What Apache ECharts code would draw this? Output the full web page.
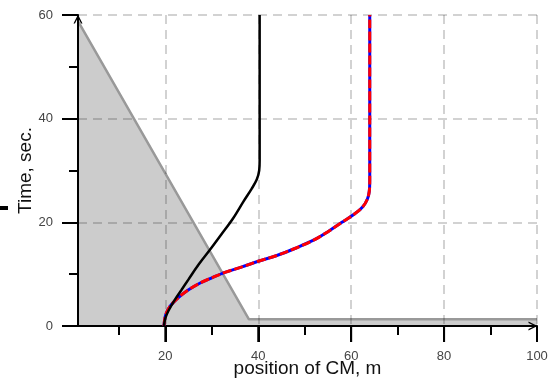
<!DOCTYPE html>
<html>
<head>
<meta charset="utf-8">
<script src="https://cdn.jsdelivr.net/npm/echarts@6/dist/echarts.min.js"></script>
<style>html,body{margin:0;padding:0;background:#fff;}#c{width:549px;height:385px;}</style>
</head>
<body>
<div id="c"></div>
<script>
// ---- data ----
const xMajorTicks = [20, 40, 60, 80, 100];
const xMinorTicks = [10, 30, 50, 70, 90];
const xTitle = 'position of CM, m';
const yTitle = 'Time, sec.';
// gray region boundary (x, t)
const regionX = [1.2, 38, 100];
const regionT = [58.8, 1.3, 1.3];
// red/blue curve (x, t)
const curveAX = [19.7, 19.9, 20.3, 21.0, 22.0, 23.5, 25.0, 27.5, 30.0, 33.0, 36.5, 40.0, 44.0, 48.0, 52.0, 55.0, 58.0, 60.7, 62.5, 63.5, 63.9, 64.0, 64.0];
const curveAT = [0, 1.5, 2.7, 3.8, 4.8, 6.0, 7.0, 8.3, 9.3, 10.4, 11.4, 12.5, 13.6, 15.0, 16.6, 18.2, 20.0, 21.6, 23.0, 24.5, 26.0, 28.0, 60];
// black curve (x, t)
const curveBX = [19.7, 20.0, 20.7, 22.0, 23.5, 25.0, 27.2, 29.6, 32.0, 34.6, 36.8, 38.6, 39.7, 40.2, 40.3, 40.3];
const curveBT = [0, 1.5, 3.0, 5.0, 7.0, 9.0, 11.9, 14.7, 17.6, 20.8, 24.0, 26.5, 28.3, 30.0, 32.0, 60];

const pairs = (xs, ys) => xs.map((x, i) => [x, ys[i]]);

const chevron = 'path://M0,10 L5,0 L10,10 L8.4,10 L5,3.2 L1.6,10 Z';
const gridDash = () => ({ color: 'rgba(0,0,0,0.24)', width: 1.5, type: [9, 6] });
const font = 'Liberation Sans, Arial, sans-serif';
const tickAxis = (vals, len) => ({
  type: 'value', min: 1.2, max: 100, position: 'bottom',
  axisLine: { show: false },
  axisTick: { show: true, length: len, lineStyle: { color: '#000', width: 2 }, customValues: vals },
  axisLabel: { show: false },
  splitLine: { show: false }
});

const chart = echarts.init(document.getElementById('c'));
chart.setOption({
  animation: false,
  backgroundColor: '#fff',
  grid: { left: 78, right: 12, top: 15, bottom: 59, outerBoundsMode: 'none' },
  xAxis: [{
    type: 'value', min: 1.2, max: 100,
    name: xTitle, nameLocation: 'middle', nameGap: 33, nameMoveOverlap: false,
    nameTextStyle: { fontSize: 19, color: '#111', fontFamily: font },
    axisLine: { show: true, lineStyle: { color: '#000', width: 2 }, symbol: ['none', chevron], symbolSize: [9, 9], symbolOffset: [0, -4] },
    axisTick: { show: false },
    axisLabel: { margin: 24, fontSize: 13, color: '#444', fontFamily: font, customValues: xMajorTicks },
    splitLine: { show: true, lineStyle: gridDash() }
  }, tickAxis(xMinorTicks, 9), tickAxis(xMajorTicks, 16)],
  yAxis: [{
    type: 'value', min: 0, max: 60, interval: 20,
    name: yTitle, nameLocation: 'middle', nameGap: 43, nameMoveOverlap: false,
    nameTextStyle: { fontSize: 19, color: '#111', fontFamily: font },
    axisLine: { show: true, lineStyle: { color: '#000', width: 2 }, symbol: ['none', chevron], symbolSize: [9, 9], symbolOffset: [0, -4] },
    axisTick: { show: true, length: 16, lineStyle: { color: '#000', width: 2 } },
    minorTick: { show: true, splitNumber: 2, length: 9, lineStyle: { color: '#000', width: 2 } },
    axisLabel: { margin: 25, fontSize: 13, color: '#444', fontFamily: font },
    splitLine: { show: true, lineStyle: gridDash() }
  }],
  graphic: [{ type: 'rect', left: 0, top: 206, shape: { width: 8, height: 4 }, style: { fill: '#000' } }],
  series: [{
    type: 'line', z: -1, data: pairs(regionX, regionT), symbol: 'none',
    lineStyle: { color: '#999', width: 2.5 }, areaStyle: { color: '#cccccc', opacity: 1 }
  }, {
    type: 'line', data: pairs(curveAX, curveAT), symbol: 'none', smooth: 0.35,
    lineStyle: { color: '#0000ff', width: 3 }
  }, {
    type: 'line', data: pairs(curveAX, curveAT), symbol: 'none', smooth: 0.35,
    lineStyle: { color: '#ff0000', width: 3, type: [9, 3] }
  }, {
    type: 'line', data: pairs(curveBX, curveBT), symbol: 'none', smooth: 0.35,
    lineStyle: { color: '#000', width: 2.5 }
  }, {
    // major x ticks at the axis, positioned through the x scale
    type: 'custom', silent: true, clip: false, z: 10,
    data: xMajorTicks.map(v => [v, 0]),
    encode: { x: 0, y: 1 },
    renderItem: function (params, api) {
      const p = api.coord([api.value(0), api.value(1)]);
      return {
        type: 'line',
        shape: { x1: p[0], y1: p[1], x2: p[0], y2: p[1] + 16 },
        style: { stroke: '#000', lineWidth: 2 }
      };
    }
  }]
});
</script>
</body>
</html>
